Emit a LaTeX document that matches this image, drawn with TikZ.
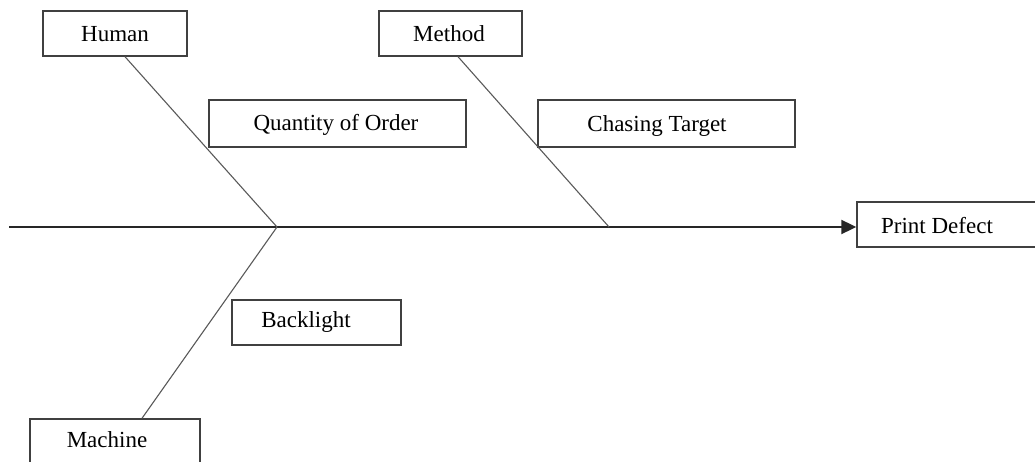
\documentclass[tikz,border=0pt]{standalone}
\usepackage{fontspec}
\setmainfont{Liberation Serif}
\usetikzlibrary{arrows.meta}
\begin{document}
\begin{tikzpicture}[x=1pt,y=-1pt,
  box/.style={draw=black!75,line width=1.4pt,rectangle,inner sep=0pt,fill=white},
  lbl/.style={font=\fontsize{23}{27}\selectfont,inner sep=0pt},
  branch/.style={draw=black!65,line width=1.1pt},
  spine/.style={draw=black!85,line width=2pt}]
\useasboundingbox (0,0) rectangle (1035,462);
\clip (0,0) rectangle (1035,462);
% boxes
\node[box,minimum width=144pt,minimum height=45pt] (human) at (115,33.5) {};
\node[box,minimum width=143pt,minimum height=45pt] (method) at (450.5,33.5) {};
\node[box,minimum width=257pt,minimum height=47pt] (qty) at (337.5,123.5) {};
\node[box,minimum width=257pt,minimum height=47pt] (chase) at (666.5,123.5) {};
\node[box,minimum width=190pt,minimum height=45pt] (print) at (952,224.5) {};
\node[box,minimum width=169pt,minimum height=45pt] (back) at (316.5,322.5) {};
\node[box,minimum width=170pt,minimum height=48pt] (machine) at (115,443) {};
% labels
\node[lbl] (thuman) at (115,34) {Human};
\node[lbl] (tmethod) at (449,34) {Method};
\node[lbl] (tqty) at (336,124.5) {Quantity of Order};
\node[lbl] (tchase) at (657,126) {Chasing Target};
\node[lbl] (tprint) at (937,226) {Print Defect};
\node[lbl] (tback) at (306,322.5) {Backlight};
\node[lbl] (tmachine) at (107,440) {Machine};
% spine and branches
\coordinate (start) at (9,227);
\coordinate (j1) at (277,227);
\coordinate (j2) at (609,227);
\draw[spine,-{Triangle[length=15pt,width=14pt]}] (start) -- (print.west |- start);
\draw[branch] ([xshift=10pt]human.south) -- (j1);
\draw[branch] ([xshift=7.5pt]method.south) -- (j2);
\draw[branch] (j1) -- ([xshift=27pt]machine.north);
\end{tikzpicture}
\end{document}
